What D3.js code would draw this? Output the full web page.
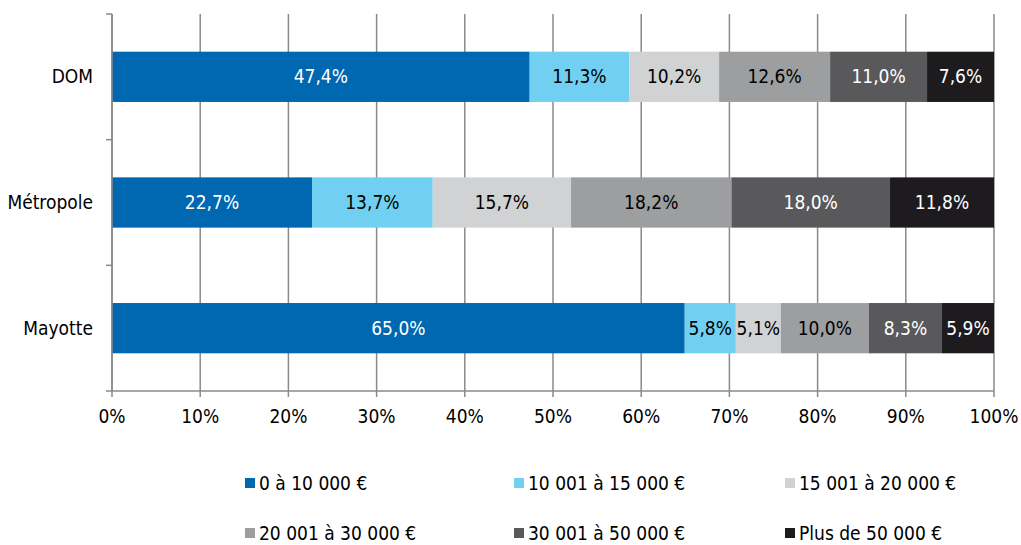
<!DOCTYPE html>
<html>
<head>
<meta charset="utf-8">
<script src="https://cdn.jsdelivr.net/npm/d3@7"></script>
<style>
body { margin: 0; background: #fff; }
text { font-family: "DejaVu Sans Condensed", "DejaVu Sans", sans-serif; }
</style>
</head>
<body>
<script>
//categories (top to bottom)
var zones = ["DOM", "Métropole", "Mayotte"];

//income bands (series)
var bands = ["0 à 10 000 €", "10 001 à 15 000 €", "15 001 à 20 000 €",
             "20 001 à 30 000 €", "30 001 à 50 000 €", "Plus de 50 000 €"];

//values per band, in zone order
var band1 = [47.4, 22.7, 65.0];
var band2 = [11.3, 13.7, 5.8];
var band3 = [10.2, 15.7, 5.1];
var band4 = [12.6, 18.2, 10.0];
var band5 = [11.0, 18.0, 8.3];
var band6 = [7.6, 11.8, 5.9];

var xTicks = [0, 10, 20, 30, 40, 50, 60, 70, 80, 90, 100];

var colors = ["#0067b1", "#71d0f1", "#d1d2d4", "#9d9ea0", "#59595b", "#1d1b1e"];
var labelColors = ["#fff", "#000", "#000", "#000", "#fff", "#fff"];

window.onload = drawChart();

function drawChart() {
    var width = 1021,
        height = 545;

    var margin = {left: 112, right: 27, top: 14, bottom: 154};

    var svg = d3.select("body")
        .append("svg")
        .attr("width", width)
        .attr("height", height);

    //build rows for stacking
    var series = [band1, band2, band3, band4, band5, band6];
    var rows = zones.map(function(z, i) {
        var row = {zone: z};
        bands.forEach(function(b, j) { row[b] = series[j][i]; });
        return row;
    });

    //100% stacked
    var stacked = d3.stack().keys(bands).offset(d3.stackOffsetExpand)(rows);

    var x = d3.scaleLinear()
        .domain([0, 1])
        .range([margin.left, width - margin.right]);

    var y = d3.scaleBand()
        .domain(zones)
        .range([margin.top, height - margin.bottom])
        .paddingInner(0.6)
        .paddingOuter(0.3);

    var plotBottom = height - margin.bottom;
    var gridColor = "#8a8a8a";

    //vertical gridlines (with small ticks below)
    svg.append("g")
        .selectAll("line")
        .data(xTicks)
        .enter()
        .append("line")
        .attr("x1", function(d) { return x(d / 100); })
        .attr("x2", function(d) { return x(d / 100); })
        .attr("y1", margin.top)
        .attr("y2", plotBottom + 6)
        .attr("stroke", gridColor)
        .attr("stroke-width", 1.5);

    //bottom axis line
    svg.append("line")
        .attr("x1", margin.left - 6)
        .attr("x2", x(1))
        .attr("y1", plotBottom)
        .attr("y2", plotBottom)
        .attr("stroke", gridColor)
        .attr("stroke-width", 1.5);

    //left category tick marks at band boundaries
    var step = (plotBottom - margin.top) / zones.length;
    svg.append("g")
        .selectAll("line")
        .data(d3.range(zones.length))
        .enter()
        .append("line")
        .attr("x1", margin.left - 6)
        .attr("x2", margin.left)
        .attr("y1", function(i) { return margin.top + i * step; })
        .attr("y2", function(i) { return margin.top + i * step; })
        .attr("stroke", gridColor)
        .attr("stroke-width", 1.5);

    //bars
    var layers = svg.selectAll(".layer")
        .data(stacked)
        .enter()
        .append("g")
        .attr("class", "layer");

    layers.selectAll("rect")
        .data(function(d) { return d; })
        .enter()
        .append("rect")
        .attr("x", function(d) { return x(d[0]); })
        .attr("width", function(d) { return x(d[1]) - x(d[0]); })
        .attr("y", function(d) { return y(d.data.zone); })
        .attr("height", y.bandwidth())
        .attr("fill", function(d, i, nodes) {
            return colors[d3.select(nodes[i].parentNode).datum().index];
        });

    //value labels
    layers.each(function(layer) {
        d3.select(this).selectAll("text")
            .data(layer)
            .enter()
            .append("text")
            .attr("x", function(d) { return (x(d[0]) + x(d[1])) / 2; })
            .attr("y", function(d) { return y(d.data.zone) + y.bandwidth() / 2; })
            .attr("dy", "0.35em")
            .attr("text-anchor", "middle")
            .attr("font-size", 19)
            .attr("fill", labelColors[layer.index])
            .text(function(d) { return d.data[layer.key].toFixed(1).replace(".", ",") + "%"; });
    });

    //left axis line
    svg.append("line")
        .attr("x1", margin.left)
        .attr("x2", margin.left)
        .attr("y1", margin.top)
        .attr("y2", plotBottom)
        .attr("stroke", gridColor)
        .attr("stroke-width", 1.5);

    //category labels
    svg.append("g")
        .selectAll("text")
        .data(zones)
        .enter()
        .append("text")
        .attr("x", margin.left - 19)
        .attr("y", function(d) { return y(d) + y.bandwidth() / 2; })
        .attr("dy", "0.35em")
        .attr("text-anchor", "end")
        .attr("font-size", 19)
        .attr("fill", "#000")
        .text(function(d) { return d; });

    //x tick labels
    svg.append("g")
        .selectAll("text")
        .data(xTicks)
        .enter()
        .append("text")
        .attr("x", function(d) { return x(d / 100); })
        .attr("y", plotBottom + 25)
        .attr("dy", "0.35em")
        .attr("text-anchor", "middle")
        .attr("font-size", 19)
        .attr("fill", "#000")
        .text(function(d) { return d + "%"; });

    //legend, 3 columns x 2 rows
    var legX = [245, 514, 785],
        legY = [483, 533];

    var legend = svg.append("g")
        .selectAll("g")
        .data(bands)
        .enter()
        .append("g")
        .attr("transform", function(d, i) {
            return "translate(" + legX[i % 3] + "," + legY[Math.floor(i / 3)] + ")";
        });

    legend.append("rect")
        .attr("x", 0)
        .attr("y", -5)
        .attr("width", 10)
        .attr("height", 10)
        .attr("fill", function(d, i) { return colors[i]; });

    legend.append("text")
        .attr("x", 14)
        .attr("dy", "0.35em")
        .attr("font-size", 19)
        .attr("fill", "#000")
        .text(function(d) { return d; });
}
</script>
</body>
</html>
